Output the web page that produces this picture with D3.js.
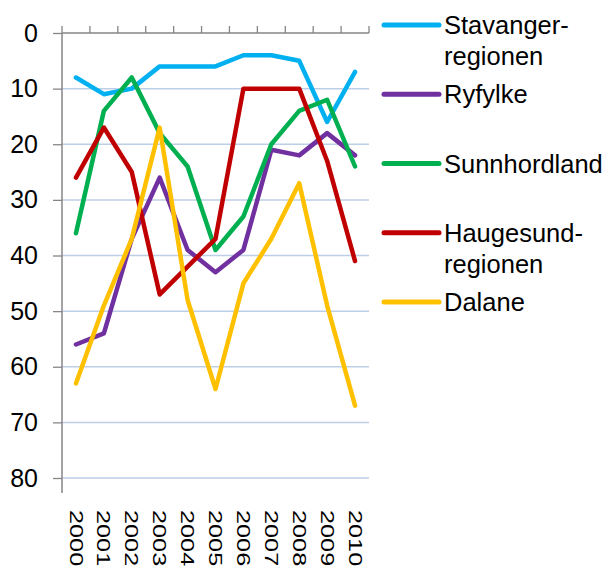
<!DOCTYPE html>
<html>
<head>
<meta charset="utf-8">
<script src="https://cdn.jsdelivr.net/npm/d3@7"></script>
<style>
  body { margin: 0; background: #fff; }
  svg { display: block; font-family: "Liberation Sans", Arial, sans-serif; }
</style>
</head>
<body>
<div id="chart"></div>
<script>
// data (rank, lower is better)
const years = ['2000', '2001', '2002', '2003', '2004', '2005', '2006', '2007', '2008', '2009', '2010'];
const seriesNames = ['Stavanger-\nregionen', 'Ryfylke', 'Sunnhordland', 'Haugesund-\nregionen', 'Dalane'];
const seriesColors = ['#00b0f0', '#7030a0', '#00b050', '#c00000', '#ffc000'];
const stavanger = [8, 11, 10, 6, 6, 6, 4, 4, 5, 16, 7];
const ryfylke = [56, 54, 37, 26, 39, 43, 39, 21, 22, 18, 22];
const sunnhordland = [36, 14, 8, 18, 24, 39, 33, 20, 14, 12, 24];
const haugesund = [26, 17, 25, 47, 42, 37, 10, 10, 10, 23, 41];
const dalane = [63, 49, 37, 17, 48, 64, 45, 37, 27, 49, 67];
const yTicks = [0, 10, 20, 30, 40, 50, 60, 70, 80];

const allValues = [stavanger, ryfylke, sunnhordland, haugesund, dalane];

// chart dimensions
const width = 609;
const height = 568;
const plot = { left: 62, right: 369, top: 33, bottom: 478 };
const axisColor = '#868686';
const gridColor = '#bccfe6';

const svg = d3.select('#chart')
    .append('svg')
    .attr('width', width)
    .attr('height', height);

// scales: value axis is reversed (0 at top)
const xScale = d3.scaleBand()
    .domain(years)
    .range([plot.left, plot.right])
    .padding(0);

const yScale = d3.scaleLinear()
    .domain([0, 80])
    .range([plot.top, plot.bottom]);

// gridlines
svg.append('g')
    .selectAll('line')
    .data(yTicks.filter((d) => d > 0))
    .enter()
    .append('line')
    .attr('x1', plot.left)
    .attr('x2', plot.right)
    .attr('y1', (d) => yScale(d))
    .attr('y2', (d) => yScale(d))
    .style('stroke', gridColor)
    .style('stroke-width', 1.5);

// y axis
const yAxis = d3.axisLeft(yScale)
    .tickValues(yTicks)
    .tickSize(9)
    .tickPadding(15);

const yG = svg.append('g')
    .attr('transform', `translate(${plot.left}, 0)`)
    .call(yAxis);
yG.select('.domain').remove();
yG.selectAll('line').style('stroke', axisColor).style('stroke-width', 1.3);
yG.selectAll('text')
    .style('font-family', '"Liberation Sans", Arial, sans-serif')
    .style('font-size', '25px')
    .style('fill', '#000');

yG.append('line')
    .attr('x1', 0)
    .attr('x2', 0)
    .attr('y1', plot.top)
    .attr('y2', 493)
    .style('stroke', axisColor)
    .style('stroke-width', 1.5);

// category axis sits at value 0 (top), ticks between categories
const xG = svg.append('g');
xG.append('line')
    .attr('x1', plot.left)
    .attr('x2', plot.right)
    .attr('y1', yScale(0))
    .attr('y2', yScale(0))
    .style('stroke', axisColor)
    .style('stroke-width', 1.5);

const boundaries = years.map((d) => xScale(d)).concat([xScale(years[years.length - 1]) + xScale.bandwidth()]);
xG.selectAll('.tick')
    .data(boundaries)
    .enter()
    .append('line')
    .attr('x1', (d) => d)
    .attr('x2', (d) => d)
    .attr('y1', yScale(0) - 7)
    .attr('y2', yScale(0))
    .style('stroke', axisColor)
    .style('stroke-width', 1.3);

// rotated year labels at the bottom
svg.append('g')
    .selectAll('text')
    .data(years)
    .enter()
    .append('text')
    .attr('transform', (d) => `translate(${xScale(d) + xScale.bandwidth() / 2}, 510) rotate(90) scale(1.33, 1)`)
    .attr('dominant-baseline', 'central')
    .style('font-size', '19px')
    .style('fill', '#000')
    .text((d) => d);

// lines
const line = d3.line()
    .x((d, i) => xScale(years[i]) + xScale.bandwidth() / 2)
    .y((d) => yScale(d));

svg.append('g')
    .selectAll('path')
    .data(allValues)
    .enter()
    .append('path')
    .attr('d', (d) => line(d))
    .style('fill', 'none')
    .style('stroke', (d, i) => seriesColors[i])
    .style('stroke-width', 4.5)
    .style('stroke-linejoin', 'round')
    .style('stroke-linecap', 'round');

// legend
const legendY = d3.scalePoint()
    .domain(seriesNames)
    .range([25, 302]);

const legend = svg.append('g')
    .selectAll('g')
    .data(seriesNames)
    .enter()
    .append('g')
    .attr('transform', (d) => `translate(384, ${legendY(d)})`);

legend.append('line')
    .attr('x1', 0)
    .attr('x2', 55)
    .style('stroke', (d, i) => seriesColors[i])
    .style('stroke-width', 5)
    .style('stroke-linecap', 'round');

legend.append('text')
    .attr('x', 60)
    .style('font-size', '25.5px')
    .style('fill', '#000')
    .selectAll('tspan')
    .data((d) => d.split('\n'))
    .enter()
    .append('tspan')
    .attr('x', 60)
    .attr('y', (d, i) => i * 31)
    .attr('dominant-baseline', 'central')
    .text((d) => d);
</script>
</body>
</html>
